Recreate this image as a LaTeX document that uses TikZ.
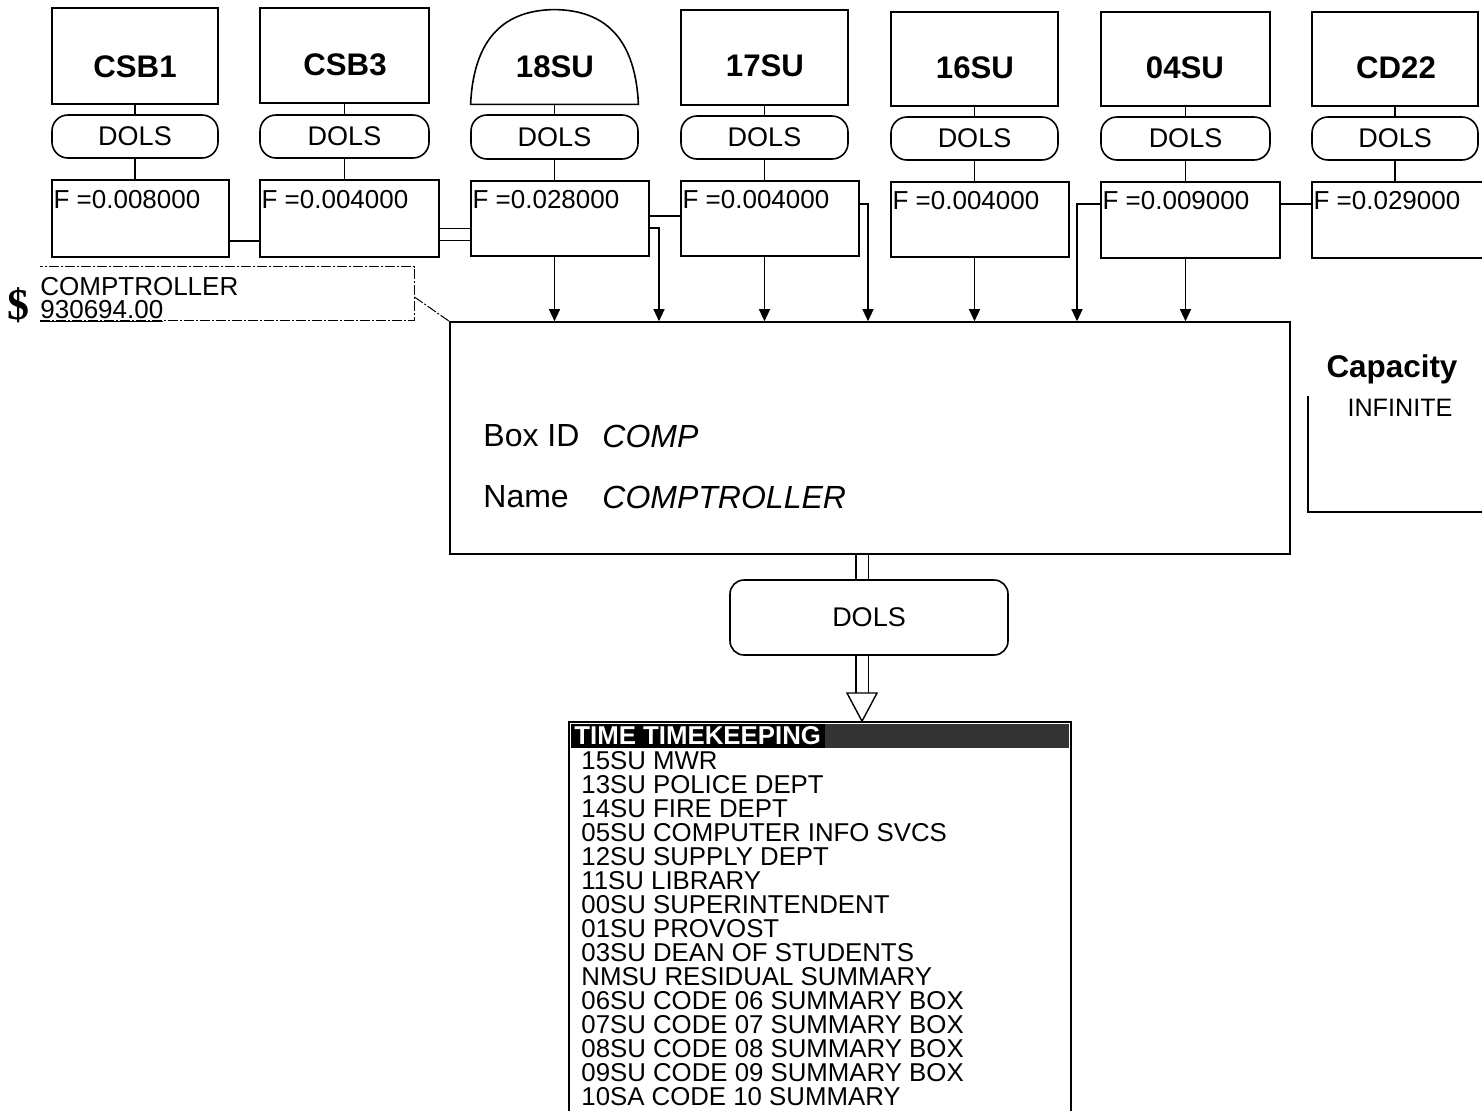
\documentclass[tikz,border=0pt]{standalone}
\usepackage{fontspec}
\setmainfont{Liberation Sans}
\newfontfamily\dollarfont{Liberation Serif}
\usetikzlibrary{arrows.meta,calc,backgrounds}
\begin{document}
\begin{tikzpicture}[x=0.5pt,y=-0.5pt,
  px/.style 2 args={minimum width=#1*0.5pt, minimum height=#2*0.5pt},
  sbox/.style={draw, line width=0.8pt, inner sep=0pt},
  dbox/.style={sbox, rounded corners=8pt, font=\fontsize{13.5}{16}\selectfont},
  tlab/.style={inner sep=0pt, font=\fontsize{15.6}{18}\selectfont\bfseries},
  ftext/.style={anchor=west, inner sep=0pt, font=\fontsize{13}{15}\selectfont},
  mtext/.style={anchor=west, inner sep=0pt, font=\fontsize{16}{19}\selectfont},
  ltext/.style={anchor=west, inner sep=0pt, font=\fontsize{12.9}{15}\selectfont},
  con/.style={line width=0.6pt},
  arr/.style={con, -{Triangle[length=6pt,width=5.5pt]}},
  dbl/.style={line width=0.7pt, double, double distance=5.5pt},
  dashdot/.style={line width=0.5pt, dash pattern=on 5pt off 1pt on 1pt off 1pt}
]
\useasboundingbox (0,0) rectangle (1482,1110);

% top row
\node[sbox,px={166}{96}] (t1) at (135,56) {};
\node[tlab] (l1) at (135,67) {CSB1};
\node[dbox,px={166}{43}] (d1) at (135,136.5) {DOLS};
\node[sbox,px={177}{77}] (f1) at (140.5,218.5) {};
\node[ftext] (ft1) at ($(f1.north west)+(2,20)$) {F =0.008000};

\node[sbox,px={169}{95}] (t2) at (344.5,55.5) {};
\node[tlab] (l2) at (345,65) {CSB3};
\node[dbox,px={169}{43}] (d2) at (344.5,136.5) {DOLS};
\node[sbox,px={179}{77}] (f2) at (349.5,218.5) {};
\node[ftext] (ft2) at ($(f2.north west)+(2,20)$) {F =0.004000};

\node[inner sep=0pt,px={167}{94}] (t3) at (554.5,57) {};
\draw[line width=0.8pt] (t3.south west) .. controls (474,30) and (512,10) .. (t3.north)
  .. controls (597,10) and (635,30) .. (t3.south east) -- cycle;
\node[tlab] (l3) at (555,67) {18SU};
\node[dbox,px={167}{44}] (d3) at (554.5,137) {DOLS};
\node[sbox,px={178}{75}] (f3) at (560,218.5) {};
\node[ftext] (ft3) at ($(f3.north west)+(2,19)$) {F =0.028000};

\node[sbox,px={167}{95}] (t4) at (764.5,57.5) {};
\node[tlab] (l4) at (765,66) {17SU};
\node[dbox,px={167}{43}] (d4) at (764.5,137.5) {DOLS};
\node[sbox,px={178}{75}] (f4) at (770,218.5) {};
\node[ftext] (ft4) at ($(f4.north west)+(2,19)$) {F =0.004000};

\node[sbox,px={167}{94}] (t5) at (974.5,59) {};
\node[tlab] (l5) at (975,68) {16SU};
\node[dbox,px={167}{43}] (d5) at (974.5,138.5) {DOLS};
\node[sbox,px={178}{75}] (f5) at (980,219.5) {};
\node[ftext] (ft5) at ($(f5.north west)+(2,19)$) {F =0.004000};

\node[sbox,px={169}{94}] (t6) at (1185.5,59) {};
\node[tlab] (l6) at (1185,68) {04SU};
\node[dbox,px={169}{43}] (d6) at (1185.5,138.5) {DOLS};
\node[sbox,px={179}{76}] (f6) at (1190.5,220) {};
\node[ftext] (ft6) at ($(f6.north west)+(2,19)$) {F =0.009000};

\node[sbox,px={166}{94}] (t7) at (1395,59) {};
\node[tlab] (l7) at (1396,68) {CD22};
\node[dbox,px={166}{43}] (d7) at (1395,138.5) {DOLS};
\node[sbox,px={178}{76}] (f7) at (1401,220) {};
\node[ftext] (ft7) at ($(f7.north west)+(2,19)$) {F =0.029000};

% main box
\node[sbox,px={840}{232}] (main) at (870,438) {};
\node[mtext] (bid) at (483,436) {Box ID};
\node[mtext] (bidv) at (602,436) {\itshape COMP};
\node[mtext] (nm) at (483,497) {Name};
\node[mtext] (nmv) at (602,497) {\itshape COMPTROLLER};

% capacity
\node[inner sep=0pt, font=\fontsize{15.7}{18}\selectfont\bfseries] (cap) at (1392,369) {Capacity};
\node[inner sep=0pt, font=\fontsize{12.6}{15}\selectfont] (capv) at (1400,408) {INFINITE};
\draw[line width=0.8pt] (1308,396) |- (1490,512);

% dollar label
\node[inner sep=0pt, font=\fontsize{22}{24}\dollarfont\bfseries] (dol) at (19,305) {\$};
\node[inner sep=0pt,px={374}{53}] (lab) at (227,293.5) {};
\node[anchor=base west, inner sep=0pt, font=\fontsize{13}{15}\selectfont] (labn) at (40,295) {COMPTROLLER};
\node[anchor=base west, inner sep=0pt, font=\fontsize{13}{15}\selectfont] (labv) at (40,318) {\underline{930694.00}};
\draw[dashdot] (lab.south west) -- (lab.south east) -- (lab.north east) -- (lab.north west);
\draw[dashdot] (lab.east |- 0,297) -- (main.north west);

% bottom DOLS and list
\node[sbox, rounded corners=7pt, px={278}{75}, font=\fontsize{13.5}{16}\selectfont] (db) at (869,617.5) {DOLS};
\node[sbox,px={502}{408}] (list) at (820,926) {};
\fill[black] (571,724) rectangle (825,748);
\fill[black!80] (825,724) rectangle (1069,748);
\node[anchor=west, inner sep=0pt, text=white, font=\fontsize{12.9}{15}\selectfont\bfseries] (hdr) at (574,736) {TIME TIMEKEEPING};
\foreach \t [count=\i from 0] in {15SU MWR,13SU POLICE DEPT,14SU FIRE DEPT,05SU COMPUTER INFO SVCS,12SU SUPPLY DEPT,11SU LIBRARY,00SU SUPERINTENDENT,01SU PROVOST,03SU DEAN OF STUDENTS,NMSU RESIDUAL SUMMARY,06SU CODE 06 SUMMARY BOX,07SU CODE 07 SUMMARY BOX,08SU CODE 08 SUMMARY BOX,09SU CODE 09 SUMMARY BOX,10SA CODE 10 SUMMARY}
  \node[ltext] (item\i) at (581,761+24*\i) {\t};

\begin{pgfonlayer}{background}
\foreach \k in {1,...,7}{
  \draw[con] (t\k.south) -- (d\k.north);
  \draw[con] (d\k.south) -- (d\k.south |- f\k.north);
}
\draw[con] (f1.east |- 0,241) -- (f2.west |- 0,241);
\draw[dbl] (f2.east |- 0,234.5) -- (f3.west |- 0,234.5);
\draw[con] (f3.east |- 0,216) -- (f4.west |- 0,216);
\draw[arr] (f3.east |- 0,228) -| (main.north -| 659,0);
\draw[arr] (f4.east |- 0,204) -| (main.north -| 868,0);
\draw[arr] (d3.south |- f3.south) -- (d3.south |- main.north);
\draw[arr] (d4.south |- f4.south) -- (d4.south |- main.north);
\draw[arr] (d5.south |- f5.south) -- (d5.south |- main.north);
\draw[arr] (f6.west |- 0,204) -| (main.north -| 1077,0);
\draw[arr] (d6.south |- f6.south) -- (d6.south |- main.north);
\draw[con] (f6.east |- 0,204) -- (f7.west |- 0,204);
\draw[dbl] (main.south -| 862,0) -- (db.north -| 862,0);
\draw[dbl] (db.south -| 862,0) -- (862,694);
\end{pgfonlayer}
\coordinate (tip) at (list.north -| 862,0);
\draw[line width=0.7pt, fill=white] (847,693) -- (877,693) -- (tip) -- cycle;
\end{tikzpicture}
\end{document}
